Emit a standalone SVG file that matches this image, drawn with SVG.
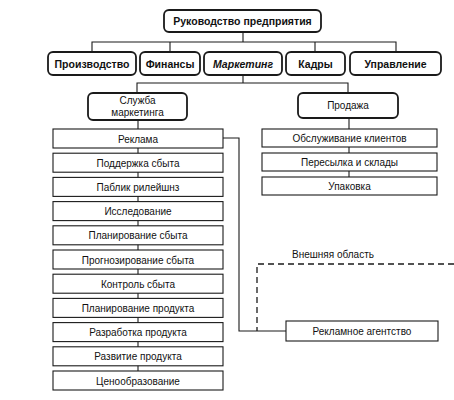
<svg xmlns="http://www.w3.org/2000/svg" width="454" height="400" viewBox="0 0 454 400">
<style>
.bg{fill:#fff}
.rb{fill:#fff;stroke:#1a1a1a;stroke-width:1.8}
.sb{fill:#fff;stroke:#1a1a1a;stroke-width:1.1}
.ln{fill:none;stroke:#1a1a1a;stroke-width:1.1}
.dash{fill:none;stroke:#1a1a1a;stroke-width:1.3;stroke-dasharray:6 4}
.tb{font-family:"Liberation Sans",Arial,sans-serif;font-size:10.5px;font-weight:bold;fill:#111;text-anchor:middle}
.ti{font-style:italic}
.t{font-family:"Liberation Sans",Arial,sans-serif;font-size:10px;fill:#111;text-anchor:middle}
.tl{text-anchor:start}
</style>
<rect class="bg" x="0" y="0" width="454" height="400"/>
<g id="connectors">
<path class="ln" d="M243 32V42M92 51V42H396V51M170 42V51M315 42V51M243 75V83M137 93V83H348V93"/>
<path class="ln" d="M138 120V390"/>
<path class="ln" d="M349 118V195"/>
<path class="ln" d="M223 138H239V331H286"/>
<path class="dash" d="M454 264H257V331"/>
</g>
<g id="n-top"><rect class="rb" x="164" y="10" width="157" height="22" rx="5"/><text class="tb" x="242.5" y="25">Руководство предприятия</text></g>
<g id="n-proizv"><rect class="rb" x="48" y="52" width="88" height="23" rx="5"/><text class="tb" x="92" y="67.5">Производство</text></g>
<g id="n-fin"><rect class="rb" x="140" y="52" width="60" height="23" rx="5"/><text class="tb" x="170" y="67.5">Финансы</text></g>
<g id="n-mark"><rect class="rb" x="204" y="52" width="78" height="23" rx="5"/><text class="tb ti" x="243" y="67.5">Маркетинг</text></g>
<g id="n-kadry"><rect class="rb" x="286" y="52" width="59" height="23" rx="5"/><text class="tb" x="315.5" y="67.5">Кадры</text></g>
<g id="n-upr"><rect class="rb" x="350" y="52" width="91" height="23" rx="5"/><text class="tb" x="395.5" y="67.5">Управление</text></g>
<g id="n-sluzhba"><rect class="rb" x="88" y="93" width="99" height="27" rx="5"/><text class="t" x="137.5" y="104">Служба</text><text class="t" x="137.5" y="116">маркетинга</text></g>
<g id="n-prodazha"><rect class="rb" x="298" y="93" width="100" height="25" rx="5"/><text class="t" x="348" y="109">Продажа</text></g>
<g id="n-reklama"><rect class="sb" x="53" y="129" width="170" height="19"/><text class="t" x="138" y="142.5">Реклама</text></g>
<g id="n-podderzhka"><rect class="sb" x="53" y="153.2" width="170" height="19"/><text class="t" x="138" y="166.7">Поддержка сбыта</text></g>
<g id="n-pr"><rect class="sb" x="53" y="177.4" width="170" height="19"/><text class="t" x="138" y="190.9">Паблик рилейшнз</text></g>
<g id="n-issl"><rect class="sb" x="53" y="201.6" width="170" height="19"/><text class="t" x="138" y="215.1">Исследование</text></g>
<g id="n-plansbyt"><rect class="sb" x="53" y="225.8" width="170" height="19"/><text class="t" x="138" y="239.3">Планирование сбыта</text></g>
<g id="n-prognoz"><rect class="sb" x="53" y="250" width="170" height="19"/><text class="t" x="138" y="263.5">Прогнозирование сбыта</text></g>
<g id="n-kontrol"><rect class="sb" x="53" y="274.2" width="170" height="19"/><text class="t" x="138" y="287.7">Контроль сбыта</text></g>
<g id="n-planprod"><rect class="sb" x="53" y="298.4" width="170" height="19"/><text class="t" x="138" y="311.9">Планирование продукта</text></g>
<g id="n-razrab"><rect class="sb" x="53" y="322.6" width="170" height="19"/><text class="t" x="138" y="336.1">Разработка продукта</text></g>
<g id="n-razvit"><rect class="sb" x="53" y="346.8" width="170" height="19"/><text class="t" x="138" y="360.3">Развитие продукта</text></g>
<g id="n-ceno"><rect class="sb" x="53" y="371" width="170" height="19"/><text class="t" x="138" y="384.5">Ценообразование</text></g>
<g id="n-obsl"><rect class="sb" x="262" y="129" width="175" height="18"/><text class="t" x="349.5" y="142">Обслуживание клиентов</text></g>
<g id="n-peres"><rect class="sb" x="262" y="153" width="175" height="18"/><text class="t" x="349.5" y="166">Пересылка и склады</text></g>
<g id="n-upak"><rect class="sb" x="262" y="177" width="175" height="18"/><text class="t" x="349.5" y="190">Упаковка</text></g>
<g id="n-agent"><rect class="sb" x="286" y="321" width="152" height="20"/><text class="t" x="362" y="335">Рекламное агентство</text></g>
<g id="l-vnesh"><text class="t tl" x="292" y="258">Внешняя область</text></g>
</svg>
